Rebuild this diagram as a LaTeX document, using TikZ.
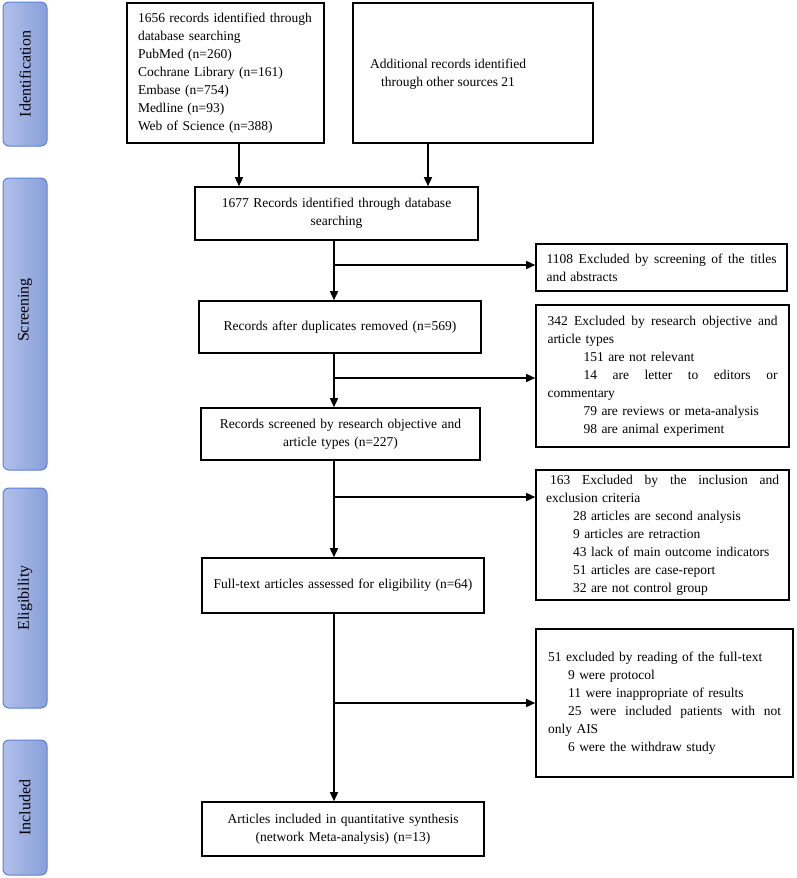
\documentclass[tikz,border=0pt]{standalone}
\usepackage{fontspec}
\setmainfont{Liberation Serif}
\usetikzlibrary{arrows.meta}
\definecolor{barL}{HTML}{B1C0E8}
\definecolor{barR}{HTML}{889FDA}
\definecolor{barB}{HTML}{5A82D6}
\newcommand{\jl}[2]{{\spaceskip=0.3333em plus 3em\relax\makebox[#1][s]{#2}}}
\begin{document}
\begin{tikzpicture}[x=1pt,y=-1pt,
  txt/.style={font=\fontsize{13.5}{18}\selectfont},
  box/.style={txt, draw=black, line width=1.6pt, inner sep=0pt},
  stage/.style={rounded corners=6pt, left color=barL, right color=barR, draw=barB, line width=1pt, inner sep=0pt, minimum width=44pt},
  stagetxt/.style={font=\fontsize{16}{19}\selectfont, rotate=90},
  conn/.style={line width=1.5pt, -{Triangle[length=9pt,width=8pt]}},
  link/.style={line width=1.5pt}
]
\useasboundingbox (0,0) rectangle (796,878);

% stage bars
\node[stage, minimum height=144pt] (sid) at (25,74) {};
\node[stagetxt] (tid) at (sid.center) {Identification};
\node[stage, minimum height=292pt] (ssc) at (25,324) {};
\node[stagetxt] (tsc) at (25,310) {Screening};
\node[stage, minimum height=220pt] (sel) at (25,598) {};
\node[stagetxt] (tel) at (sel.center) {Eligibility};
\node[stage, minimum height=135pt] (sin) at (25,807.5) {};
\node[stagetxt] (tin) at (sin.center) {Included};

% main boxes
\node[box, minimum width=197pt, minimum height=140pt, text width=175pt, align=left] (b1) at (225.5,73)
  {1656 records identified through\\ database searching\\ PubMed (n=260)\\ Cochrane Library (n=161)\\ Embase (n=754)\\ Medline (n=93)\\ Web of Science (n=388)};
\node[box, minimum width=240pt, minimum height=140pt] (b2) at (473,73) {};
\node[txt, align=center] (t2) at (448,74) {Additional records identified\\ through other sources 21};
\node[box, minimum width=283pt, minimum height=53pt, text width=270pt, align=center] (b3) at (336.5,213.5)
  {1677 Records identified through database\\ searching};
\node[box, minimum width=282pt, minimum height=52pt, text width=270pt, align=center] (b4) at (340,327)
  {Records after duplicates removed (n=569)};
\node[box, minimum width=279pt, minimum height=52pt, text width=270pt, align=center] (b5) at (340.5,434)
  {Records screened by research objective and\\ article types (n=227)};
\node[box, minimum width=282pt, minimum height=55pt, text width=270pt, align=center] (b6) at (343,585.5)
  {Full-text articles assessed for eligibility (n=64)};
\node[box, minimum width=282pt, minimum height=54pt, text width=270pt, align=center] (b7) at (343,829)
  {Articles included in quantitative synthesis\\ (network Meta-analysis) (n=13)};

% exclusion boxes
\node[box, minimum width=251pt, minimum height=47pt, text width=230pt, align=left] (e1) at (661.5,267.5)
  {\jl{230pt}{1108 Excluded by screening of the titles}\\ and abstracts};
\node[box, minimum width=253pt, minimum height=142pt, text width=230pt, align=left] (e2) at (662.5,376)
  {\jl{230pt}{342 Excluded by research objective and}\\
   article types\\
   \hspace*{36pt}151 are not relevant\\
   \jl{230pt}{\hspace*{36pt}14 are letter to editors or}\\
   commentary\\
   \hspace*{36pt}79 are reviews or meta-analysis\\
   \hspace*{36pt}98 are animal experiment};
\node[box, minimum width=253pt, minimum height=130pt, text width=233pt, align=left] (e3) at (662.5,535)
  {\jl{233pt}{\hspace*{4pt}163 Excluded by the inclusion and}\\
   exclusion criteria\\
   \hspace*{27pt}28 articles are second analysis\\
   \hspace*{27pt}9 articles are retraction\\
   \hspace*{27pt}43 lack of main outcome indicators\\
   \hspace*{27pt}51 articles are case-report\\
   \hspace*{27pt}32 are not control group};
\node[box, minimum width=257pt, minimum height=148pt, text width=233pt, align=left] (e4) at (664.5,703)
  {51 excluded by reading of the full-text\\
   \hspace*{20pt}9 were protocol\\
   \hspace*{20pt}11 were inappropriate of results\\
   \jl{233pt}{\hspace*{20pt}25 were included patients with not}\\
   only AIS\\
   \hspace*{20pt}6 were the withdraw study};

% connectors
\coordinate (a1) at (239,0);
\coordinate (a2) at (428,0);
\coordinate (spine) at (334,0);
\coordinate (br1) at (334,265);
\coordinate (br2) at (334,378);
\coordinate (br3) at (334,497);
\coordinate (br4) at (334,703);
\draw[conn] (b1.south -| a1) -- (b3.north -| a1);
\draw[conn] (b2.south -| a2) -- (b3.north -| a2);
\draw[conn] (b3.south -| spine) -- (b4.north -| spine);
\draw[conn] (b4.south -| spine) -- (b5.north -| spine);
\draw[conn] (b5.south -| spine) -- (b6.north -| spine);
\draw[conn] (b6.south -| spine) -- (b7.north -| spine);
\draw[conn] (br1) -- (br1 -| e1.west);
\draw[conn] (br2) -- (br2 -| e2.west);
\draw[conn] (br3) -- (br3 -| e3.west);
\draw[conn] (br4) -- (br4 -| e4.west);
\end{tikzpicture}
\end{document}
